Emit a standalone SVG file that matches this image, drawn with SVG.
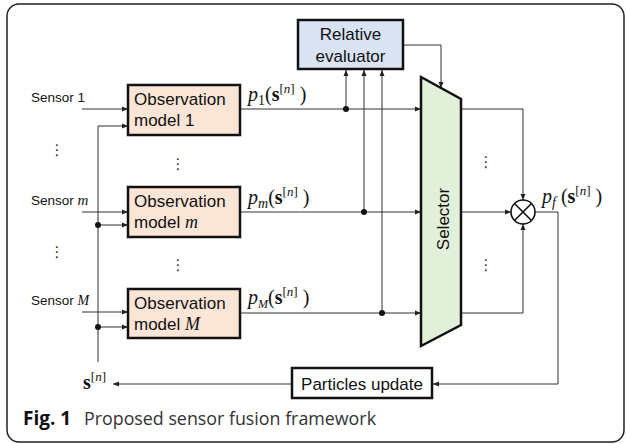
<svg xmlns="http://www.w3.org/2000/svg" width="626" height="444" viewBox="0 0 626 444">
<style>
.box{stroke:#111;stroke-width:2.5}
.obs{fill:#FBE5D6}
.eval{fill:#DAE3F3}
.sel{fill:#E2F0D9}
.pu{fill:#fff}
.lbl{font-family:"Liberation Sans",Arial,sans-serif;font-size:17px;fill:#111}
.sen{font-family:"Liberation Sans",Arial,sans-serif;font-size:13.5px;fill:#111}
.mi{font-family:"Liberation Serif","DejaVu Serif",serif;font-style:italic}
.m{font-family:"Liberation Serif","DejaVu Serif",serif;font-size:20px;fill:#111}
.c{fill:none;stroke:#333;stroke-width:1}
.dot{fill:#111}
.ell{font-family:"DejaVu Sans",sans-serif;font-size:15px;fill:#333;text-anchor:middle}
</style>
<defs>
<marker id="ah" markerUnits="userSpaceOnUse" markerWidth="6" markerHeight="6" refX="6" refY="3" orient="auto">
<path d="M0,0.5 L6,3 L0,5.5 z" fill="#222"/>
</marker>
</defs>
<rect x="7" y="4" width="617" height="438" rx="12" fill="none" stroke="#222" stroke-width="1.5"/>

<g id="connectors">
<path class="c" d="M82,109 H128" marker-end="url(#ah)"/>
<path class="c" d="M98,362 V126 H128" marker-end="url(#ah)"/>
<path class="c" d="M82,212 H128" marker-end="url(#ah)"/>
<path class="c" d="M98,225 H128" marker-end="url(#ah)"/>
<path class="c" d="M82,312 H128" marker-end="url(#ah)"/>
<path class="c" d="M98,327 H128" marker-end="url(#ah)"/>
<circle class="dot" cx="98" cy="225" r="3"/>
<circle class="dot" cx="98" cy="327" r="3"/>
<path class="c" d="M240,109 H421" marker-end="url(#ah)"/>
<path class="c" d="M240,212 H421" marker-end="url(#ah)"/>
<path class="c" d="M240,313 H421" marker-end="url(#ah)"/>
<path class="c" d="M346,109 V70" marker-end="url(#ah)"/>
<path class="c" d="M364,212 V70" marker-end="url(#ah)"/>
<path class="c" d="M382,313 V70" marker-end="url(#ah)"/>
<circle class="dot" cx="346" cy="109" r="3"/>
<circle class="dot" cx="364" cy="212" r="3"/>
<circle class="dot" cx="382" cy="313" r="3"/>
<path class="c" d="M403,45 H441 V88" marker-end="url(#ah)"/>
<path class="c" d="M461,109 H523 V200" marker-end="url(#ah)"/>
<path class="c" d="M461,212 H511" marker-end="url(#ah)"/>
<path class="c" d="M461,313 H523 V224" marker-end="url(#ah)"/>
<path class="c" d="M535,212 H558 V384 H433" marker-end="url(#ah)"/>
<path class="c" d="M292,384 H113" marker-end="url(#ah)"/>
</g>

<g id="sensor1">
<text class="sen" x="31" y="102">Sensor 1</text>
</g>
<g id="sensorm">
<text class="sen" x="31" y="205">Sensor <tspan class="mi" font-size="15">m</tspan></text>
</g>
<g id="sensorM">
<text class="sen" x="31" y="305">Sensor <tspan class="mi" font-size="14">M</tspan></text>
</g>

<g id="obs1">
<rect class="box obs" x="128" y="85" width="112" height="50"/>
<text class="lbl" x="134" y="105">Observation</text>
<text class="lbl" x="134" y="126">model 1</text>
</g>
<g id="obsm">
<rect class="box obs" x="128" y="187" width="112" height="50"/>
<text class="lbl" x="134" y="207">Observation</text>
<text class="lbl" x="134" y="228">model <tspan class="mi" font-size="18">m</tspan></text>
</g>
<g id="obsM">
<rect class="box obs" x="128" y="289" width="112" height="49"/>
<text class="lbl" x="134" y="309">Observation</text>
<text class="lbl" x="134" y="330">model <tspan class="mi" font-size="18">M</tspan></text>
</g>

<g id="evaluator">
<rect class="box eval" x="298" y="20" width="105" height="49"/>
<text class="lbl" x="350.5" y="40" text-anchor="middle">Relative</text>
<text class="lbl" x="350.5" y="62" text-anchor="middle">evaluator</text>
</g>

<g id="selector">
<path class="box sel" d="M421,77 L461,99 L461,325 L421,346 Z"/>
<text class="lbl" transform="translate(449,219) rotate(-90)" text-anchor="middle">Selector</text>
</g>

<g id="multiplier">
<circle cx="523" cy="212" r="12" fill="#fff" stroke="#111" stroke-width="1.6"/>
<path d="M514.5,203.5 L531.5,220.5 M531.5,203.5 L514.5,220.5" stroke="#111" stroke-width="1.6"/>
</g>

<g id="particles">
<rect class="box pu" x="292" y="368" width="140" height="30"/>
<text class="lbl" x="362" y="390" text-anchor="middle">Particles update</text>
</g>

<g id="labels">
<text class="m" x="248" y="101"><tspan font-style="italic">p</tspan><tspan font-size="14" dy="4">1</tspan><tspan dy="-4">(</tspan><tspan font-weight="bold">s</tspan><tspan font-size="13" dy="-8">[</tspan><tspan font-size="13" font-style="italic">n</tspan><tspan font-size="13">]</tspan><tspan dy="8">  )</tspan></text>
<text class="m" x="248" y="204"><tspan font-style="italic">p</tspan><tspan font-size="14" font-style="italic" dy="4">m</tspan><tspan dy="-4">(</tspan><tspan font-weight="bold">s</tspan><tspan font-size="13" dy="-8">[</tspan><tspan font-size="13" font-style="italic">n</tspan><tspan font-size="13">]</tspan><tspan dy="8">  )</tspan></text>
<text class="m" x="248" y="304"><tspan font-style="italic">p</tspan><tspan font-size="12" font-style="italic" dy="4">M</tspan><tspan dy="-4">(</tspan><tspan font-weight="bold">s</tspan><tspan font-size="13" dy="-8">[</tspan><tspan font-size="13" font-style="italic">n</tspan><tspan font-size="13">]</tspan><tspan dy="8">  )</tspan></text>
<text class="m" x="542" y="203"><tspan font-style="italic">p</tspan><tspan font-size="14" font-style="italic" dy="4">f</tspan><tspan dy="-4"> (</tspan><tspan font-weight="bold">s</tspan><tspan font-size="13" dy="-8">[</tspan><tspan font-size="13" font-style="italic">n</tspan><tspan font-size="13">]</tspan><tspan dy="8">  )</tspan></text>
<text class="m" x="83" y="389"><tspan font-weight="bold">s</tspan><tspan font-size="13" dy="-8">[</tspan><tspan font-size="13" font-style="italic">n</tspan><tspan font-size="13">]</tspan></text>
</g>

<g id="ellipses">
<text class="ell" x="57" y="155">⋮</text>
<text class="ell" x="57" y="257">⋮</text>
<text class="ell" x="178" y="169">⋮</text>
<text class="ell" x="178" y="270">⋮</text>
<text class="ell" x="486" y="167">⋮</text>
<text class="ell" x="486" y="270">⋮</text>
</g>

<g id="caption">
<text x="23" y="425" font-family="'Open Sans','Noto Sans',sans-serif" font-size="19" font-weight="bold" fill="#111">Fig. 1</text>
<text x="84" y="425" font-family="'Open Sans','Noto Sans',sans-serif" font-size="18" fill="#333" textLength="292" lengthAdjust="spacingAndGlyphs">Proposed sensor fusion framework</text>
</g>
</svg>
